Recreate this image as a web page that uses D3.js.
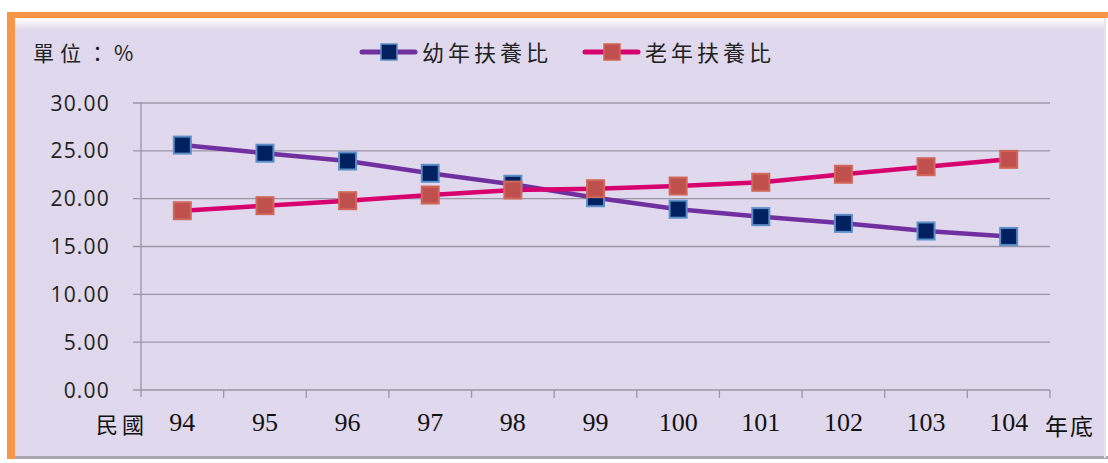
<!DOCTYPE html>
<html><head><meta charset="utf-8">
<script src="https://cdn.jsdelivr.net/npm/d3@7"></script>
<style>html,body{margin:0;padding:0;background:#fff;}</style>
</head><body>
<svg id="c" width="1108" height="463"></svg>
<script>
const years = ["94","95","96","97","98","99","100","101","102","103","104"];
const youngRatio = [25.6, 24.75, 23.94, 22.65, 21.5, 20.1, 18.9, 18.12, 17.42, 16.62, 16.05];
const oldRatio = [18.74, 19.27, 19.79, 20.38, 20.9, 21.04, 21.32, 21.71, 22.55, 23.34, 24.11];
const yTicks = [0, 5, 10, 15, 20, 25, 30];
const seriesNames = ["幼年扶養比", "老年扶養比"];

const svg = d3.select("#c");
const cjk = "'Noto Sans CJK TC','Noto Sans CJK SC',sans-serif";

// frame
const defs = svg.append("defs");
const g1 = defs.append("linearGradient").attr("id","topg").attr("x1",0).attr("y1",0).attr("x2",0).attr("y2",1);
g1.append("stop").attr("offset","0%").attr("stop-color","#ffffff");
g1.append("stop").attr("offset","100%").attr("stop-color","#e0d8ec");
svg.append("rect").attr("x",14).attr("y",18).attr("width",1092).attr("height",440).attr("fill","#e0d8ec");
svg.append("rect").attr("x",14).attr("y",18).attr("width",1092).attr("height",12).attr("fill","url(#topg)");
svg.append("rect").attr("x",14).attr("y",456).attr("width",1094).attr("height",3).attr("fill","#a8a4b0");
svg.append("rect").attr("x",1104).attr("y",18).attr("width",2).attr("height",440).attr("fill","#e8e2f0");
svg.append("rect").attr("x",7).attr("y",12).attr("width",1101).attr("height",6).attr("fill","#f79646");
svg.append("rect").attr("x",7).attr("y",12).attr("width",8).attr("height",447).attr("fill","#f79646");

const x = d3.scaleBand().domain(years).range([141, 1050]);
const y = d3.scaleLinear().domain([0, 30]).range([390, 103]);

// gridlines
svg.append("g").selectAll("line").data(yTicks).join("line")
  .attr("x1", 133).attr("x2", 1050)
  .attr("y1", d => y(d)).attr("y2", d => y(d))
  .attr("stroke", "#9b96a6").attr("stroke-width", 1.3);

// y axis line
svg.append("line").attr("x1",141).attr("x2",141).attr("y1",y(30)).attr("y2",y(0)+7)
  .attr("stroke","#9b96a6").attr("stroke-width",1.3);
// x ticks at band boundaries
const bounds = years.map(d => x(d)).concat([x.range()[1]]);
svg.append("g").selectAll("line").data(bounds.slice(1)).join("line")
  .attr("x1", d => d).attr("x2", d => d).attr("y1", y(0)).attr("y2", y(0)+8)
  .attr("stroke","#9b96a6").attr("stroke-width",1.3);

// y labels
svg.append("g").selectAll("text").data(yTicks).join("text")
  .attr("x", 110).attr("y", d => y(d) + 7.5)
  .attr("text-anchor","end").attr("font-family","'Open Sans',sans-serif").attr("font-size",21)
  .attr("letter-spacing",1.2)
  .attr("fill","#222").text(d => d.toFixed(2));

// x labels
svg.append("g").selectAll("text").data(years).join("text")
  .attr("x", d => x(d) + x.bandwidth()/2).attr("y", 431)
  .attr("text-anchor","middle").attr("font-family","'Liberation Serif',serif").attr("font-size",26)
  .attr("fill","#111").text(d => d);

svg.append("text").attr("x",96).attr("y",433).attr("font-family",cjk).attr("font-size",22)
  .attr("letter-spacing",4).attr("fill","#111").text("民國");
svg.append("text").attr("x",1045).attr("y",435).attr("font-family",cjk).attr("font-size",23)
  .attr("letter-spacing",2).attr("fill","#111").text("年底");
svg.append("text").attr("x",33).attr("y",61).attr("font-family",cjk).attr("font-size",21)
  .attr("letter-spacing",6).attr("fill","#222").text("單位：%");

const cx = d => x(d) + x.bandwidth()/2;
const styles = [
  {line:"#7030a0", fill:"#002060", stroke:"#5b8ec6", data: youngRatio},
  {line:"#d6006e", fill:"#c0504d", stroke:"#d0685a", data: oldRatio}
];
const lineGen = d3.line().x((d,i) => cx(years[i])).y(d => y(d));
styles.forEach(s => {
  svg.append("path").datum(s.data).attr("d", lineGen).attr("fill","none")
    .attr("stroke", s.line).attr("stroke-width", 4.5).attr("stroke-linejoin","round");
});
styles.forEach(s => {
  svg.append("g").selectAll("rect").data(s.data).join("rect")
    .attr("x",(d,i) => cx(years[i]) - 8.5).attr("y", d => y(d) - 8.5)
    .attr("width",17).attr("height",17)
    .attr("fill", s.fill).attr("stroke", s.stroke).attr("stroke-width", 2);
});

// legend
const legX = [362, 585];
styles.forEach((s, i) => {
  const lx = legX[i];
  svg.append("line").attr("x1",lx).attr("x2",lx+53).attr("y1",52).attr("y2",52)
    .attr("stroke",s.line).attr("stroke-width",5).attr("stroke-linecap","round");
  svg.append("rect").attr("x",lx+19).attr("y",44).attr("width",16).attr("height",16)
    .attr("fill",s.fill).attr("stroke",s.stroke).attr("stroke-width",1.5);
  svg.append("text").attr("x",lx+60).attr("y",61).attr("font-family",cjk).attr("font-size",22)
    .attr("letter-spacing",4).attr("fill","#222").text(seriesNames[i]);
});
</script>
</body></html>
